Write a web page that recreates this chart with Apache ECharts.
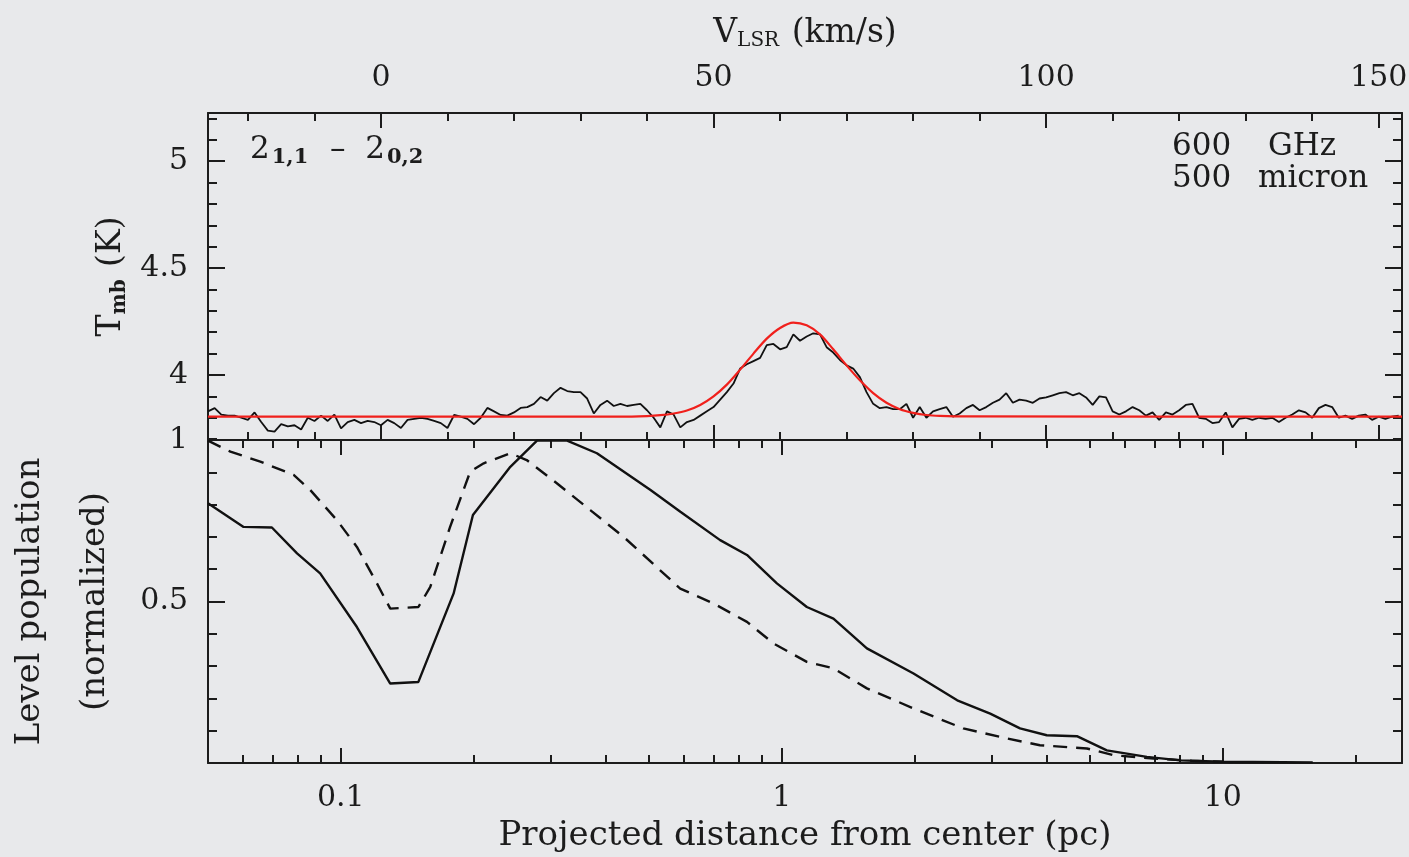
<!DOCTYPE html>
<html>
<head>
<meta charset="utf-8">
<script src="https://cdn.jsdelivr.net/npm/echarts@6/dist/echarts.min.js"></script>
<style>
  html, body { margin: 0; padding: 0; background: #e8e9eb; }
  #chart { width: 1409px; height: 857px; }
</style>
</head>
<body>
<div id="chart"></div>
<script>
// spectrum channels: first channel velocity and channel width (km/s)
const velStart = -26
const velStep = 1
// observed Tmb (K), one value per channel from -26 to 153 km/s
const tmbObs = [
  3.83, 3.845, 3.815, 3.81, 3.81, 3.80, 3.79, 3.825, 3.78, 3.74,
  3.735, 3.77, 3.76, 3.765, 3.745, 3.80, 3.785, 3.81, 3.785, 3.815,
  3.75, 3.78, 3.79, 3.775, 3.785, 3.78, 3.765, 3.79, 3.775, 3.752,
  3.79, 3.795, 3.80, 3.795, 3.785, 3.775, 3.752, 3.813, 3.805, 3.795,
  3.77, 3.80, 3.846, 3.83, 3.813, 3.81, 3.825, 3.846, 3.85, 3.865,
  3.897, 3.88, 3.915, 3.94, 3.925, 3.92, 3.92, 3.89, 3.82, 3.86,
  3.88, 3.855, 3.865, 3.855, 3.86, 3.865, 3.835, 3.80, 3.755, 3.83,
  3.815, 3.755, 3.78, 3.79, 3.81, 3.83, 3.85, 3.885, 3.92, 3.96,
  4.03, 4.05, 4.065, 4.08, 4.14, 4.145, 4.12, 4.13, 4.19, 4.16,
  4.18, 4.195, 4.19, 4.13, 4.105, 4.07, 4.045, 4.03, 3.99, 3.92,
  3.865, 3.845, 3.85, 3.84, 3.84, 3.865, 3.80, 3.85, 3.80, 3.83,
  3.84, 3.85, 3.805, 3.82, 3.845, 3.86, 3.835, 3.85, 3.87, 3.885,
  3.915, 3.87, 3.885, 3.88, 3.87, 3.89, 3.895, 3.905, 3.915, 3.92,
  3.905, 3.915, 3.895, 3.86, 3.90, 3.895, 3.83, 3.815, 3.83, 3.85,
  3.835, 3.81, 3.825, 3.79, 3.825, 3.815, 3.835, 3.86, 3.865, 3.80,
  3.795, 3.775, 3.78, 3.825, 3.755, 3.795, 3.80, 3.79, 3.80, 3.795,
  3.80, 3.78, 3.80, 3.815, 3.835, 3.825, 3.80, 3.845, 3.86, 3.85,
  3.80, 3.81, 3.795, 3.81, 3.815, 3.79, 3.805, 3.795, 3.805, 3.81
]
// gaussian fit (red)
const fitVel = [-26, 36, 40, 42, 44, 46, 48, 50, 52, 54, 56, 58, 60, 62, 64, 66, 68, 70, 72, 74, 76, 78, 80, 82, 84, 88, 153.5]
const fitTmb = [3.805, 3.805, 3.808, 3.812, 3.82, 3.834, 3.86, 3.9, 3.955, 4.025, 4.1, 4.17, 4.22, 4.245, 4.232, 4.19, 4.12, 4.045, 3.975, 3.915, 3.87, 3.84, 3.823, 3.813, 3.809, 3.806, 3.805]

// level population vs projected distance
const distSolid = [0.05, 0.0602, 0.0698, 0.0796, 0.0898, 0.1088, 0.1295, 0.150, 0.1803, 0.1994, 0.2424, 0.2786, 0.326, 0.381, 0.504, 0.589, 0.725, 0.834, 0.975, 1.14, 1.31, 1.56, 1.99, 2.50, 2.97, 3.47, 3.99, 4.67, 5.46, 6.73, 8.01, 10, 16]
const popSolid = [0.804, 0.731, 0.729, 0.649, 0.587, 0.421, 0.246, 0.251, 0.525, 0.768, 0.917, 0.998, 0.998, 0.959, 0.845, 0.778, 0.690, 0.644, 0.556, 0.483, 0.447, 0.355, 0.277, 0.194, 0.153, 0.107, 0.086, 0.083, 0.039, 0.019, 0.008, 0.004, 0.002]
const distDashed = [0.05, 0.0562, 0.0657, 0.0782, 0.0853, 0.098, 0.1088, 0.1208, 0.1295, 0.150, 0.1596, 0.177, 0.1966, 0.211, 0.2424, 0.264, 0.309, 0.368, 0.438, 0.5886, 0.7004, 0.834, 0.958, 1.14, 1.31, 1.56, 1.99, 2.58, 3.24, 3.85, 4.92, 5.66, 6.97, 8.5, 10]
const popDashed = [0.998, 0.964, 0.933, 0.892, 0.845, 0.752, 0.669, 0.556, 0.478, 0.483, 0.545, 0.731, 0.902, 0.928, 0.959, 0.938, 0.866, 0.783, 0.700, 0.540, 0.494, 0.437, 0.370, 0.313, 0.293, 0.231, 0.169, 0.107, 0.076, 0.055, 0.045, 0.024, 0.014, 0.007, 0.004]

// tick labels / tick positions
const velMajor = [0, 50, 100, 150]
const velMinor = [-20, -10, 10, 20, 30, 40, 60, 70, 80, 90, 110, 120, 130, 140]
const tmbMajor = [4, 4.5, 5]
const tmbMinor = [3.7, 3.8, 3.9, 4.1, 4.2, 4.3, 4.4, 4.6, 4.7, 4.8, 4.9, 5.1, 5.2]
const distMajor = [0.1, 1, 10]
const distMinor = [0.06, 0.07, 0.08, 0.09, 0.2, 0.3, 0.4, 0.5, 0.6, 0.7, 0.8, 0.9, 2, 3, 4, 5, 6, 7, 8, 9, 20]
const popMajor = [0, 0.5, 1]
const popMinor = [0.1, 0.2, 0.3, 0.4, 0.6, 0.7, 0.8, 0.9]
const popLabels = [0.5, 1]

const INK = '#1c1c1c'
const FONT = 'DejaVu Serif'

// one axis = one side of a panel, drawn with inward ticks
function side(o) {
  let ax = {
    type: o.type || 'value',
    gridIndex: o.grid,
    position: o.pos,
    min: o.min,
    max: o.max,
    axisLine: {show: o.line !== false, onZero: false, lineStyle: {color: INK, width: 2}},
    axisTick: {show: true, inside: true, length: o.len, customValues: o.ticks, lineStyle: {color: INK, width: 2}},
    axisLabel: {show: false},
    splitLine: {show: false},
    minorTick: {show: false}
  }
  if (o.labels) {
    ax.axisLabel = {
      show: true, customValues: o.labels, color: INK, fontFamily: FONT, fontSize: 30, margin: o.margin || 20,
      formatter: v => String(+Number(v).toPrecision(3))
    }
  }
  return ax
}

let chart = echarts.init(document.getElementById('chart'))

let spectrum = tmbObs.map((t, i) => [velStart + i * velStep, t])
let fit = fitVel.map((v, i) => [v, fitTmb[i]])
let solid = distSolid.map((d, i) => [d, popSolid[i]])
let dashed = distDashed.map((d, i) => [d, popDashed[i]])

let velRange = {min: -26, max: 153.5}
let tmbRange = {min: 3.696, max: 5.225}
let distRange = {min: 0.05, max: 25.5}
let popRange = {min: 0, max: 1}

let xTop = side(Object.assign({grid: 0, pos: 'top', len: 15, ticks: velMajor, labels: velMajor}, velRange))
xTop.name = '{a|V}{b|LSR}{a| (km/s)}'
xTop.nameLocation = 'middle'
xTop.nameGap = 62
xTop.nameTextStyle = {
  color: INK,
  rich: {
    a: {fontFamily: FONT, fontSize: 33, color: INK},
    b: {fontFamily: FONT, fontSize: 20, color: INK, padding: [16, 2, 0, 0]}
  }
}

let yTop = side(Object.assign({grid: 0, pos: 'left', len: 17, ticks: tmbMajor, labels: tmbMajor}, tmbRange))
yTop.name = '{a|T}{b|mb}{a| (K)}'
yTop.nameLocation = 'middle'
yTop.nameGap = 78
yTop.nameTextStyle = {
  color: INK,
  rich: {
    a: {fontFamily: FONT, fontSize: 33, color: INK},
    b: {fontFamily: FONT, fontSize: 20, fontWeight: 'bold', color: INK, padding: [16, 2, 0, 0]}
  }
}

let xBot = side(Object.assign({type: 'log', grid: 1, pos: 'bottom', len: 15, ticks: distMajor, labels: distMajor}, distRange))
xBot.name = 'Projected distance from center (pc)'
xBot.nameLocation = 'middle'
xBot.nameGap = 56
xBot.nameTextStyle = {fontFamily: FONT, fontSize: 34, color: INK}

let yBot = side(Object.assign({grid: 1, pos: 'left', len: 17, ticks: popMajor, labels: popLabels}, popRange))
yBot.name = 'Level population\n(normalized)'
yBot.nameLocation = 'middle'
yBot.nameGap = 80
yBot.nameTextStyle = {fontFamily: FONT, fontSize: 34, color: INK, lineHeight: 65}

let option = {
  backgroundColor: '#e8e9eb',
  animation: false,
  grid: [
    {left: 208, right: 7, top: 113, height: 327, outerBoundsMode: 'none'},
    {left: 208, right: 7, top: 440, height: 323, outerBoundsMode: 'none'}
  ],
  xAxis: [
    xTop,
    side(Object.assign({grid: 0, pos: 'top', len: 8, ticks: velMinor, line: false}, velRange)),
    side(Object.assign({grid: 0, pos: 'bottom', len: 15, ticks: velMajor}, velRange)),
    side(Object.assign({grid: 0, pos: 'bottom', len: 8, ticks: velMinor, line: false}, velRange)),
    xBot,
    side(Object.assign({type: 'log', grid: 1, pos: 'bottom', len: 8, ticks: distMinor, line: false}, distRange)),
    side(Object.assign({type: 'log', grid: 1, pos: 'top', len: 15, ticks: distMajor}, distRange)),
    side(Object.assign({type: 'log', grid: 1, pos: 'top', len: 8, ticks: distMinor, line: false}, distRange))
  ],
  yAxis: [
    yTop,
    side(Object.assign({grid: 0, pos: 'left', len: 9, ticks: tmbMinor, line: false}, tmbRange)),
    side(Object.assign({grid: 0, pos: 'right', len: 17, ticks: tmbMajor}, tmbRange)),
    side(Object.assign({grid: 0, pos: 'right', len: 9, ticks: tmbMinor, line: false}, tmbRange)),
    yBot,
    side(Object.assign({grid: 1, pos: 'left', len: 9, ticks: popMinor, line: false}, popRange)),
    side(Object.assign({grid: 1, pos: 'right', len: 17, ticks: popMajor}, popRange)),
    side(Object.assign({grid: 1, pos: 'right', len: 9, ticks: popMinor, line: false}, popRange))
  ],
  graphic: [
    {
      type: 'text', left: 250, top: 134,
      style: {
        text: '{n|2}{s|1,1}{n|  –  }{n|2}{s|0,2}',
        rich: {
          n: {fontFamily: FONT, fontSize: 31, fill: INK},
          s: {fontFamily: FONT, fontSize: 21, fontWeight: 'bold', fill: INK, padding: [16, 2, 0, 2]}
        }
      }
    },
    {type: 'text', left: 1172, top: 131, style: {text: '600', fontFamily: FONT, fontSize: 31, fill: INK}},
    {type: 'text', left: 1268, top: 131, style: {text: 'GHz', fontFamily: FONT, fontSize: 31, fill: INK}},
    {type: 'text', left: 1172, top: 163, style: {text: '500', fontFamily: FONT, fontSize: 31, fill: INK}},
    {type: 'text', left: 1258, top: 163, style: {text: 'micron', fontFamily: FONT, fontSize: 31, fill: INK}}
  ],
  series: [
    {
      name: 'observed', type: 'line', xAxisIndex: 0, yAxisIndex: 0,
      data: spectrum, showSymbol: false,
      lineStyle: {color: '#111', width: 1.8}
    },
    {
      name: 'fit', type: 'line', xAxisIndex: 0, yAxisIndex: 0,
      data: fit, showSymbol: false, smooth: 0.3, z: 3,
      lineStyle: {color: '#f0201c', width: 2.2}
    },
    {
      name: 'solid', type: 'line', xAxisIndex: 4, yAxisIndex: 4,
      data: solid, showSymbol: false,
      lineStyle: {color: '#111', width: 2.4}
    },
    {
      name: 'dashed', type: 'line', xAxisIndex: 4, yAxisIndex: 4,
      data: dashed, showSymbol: false,
      lineStyle: {color: '#111', width: 2.4, type: [14, 9]}
    }
  ]
}

chart.setOption(option)
</script>
</body>
</html>
